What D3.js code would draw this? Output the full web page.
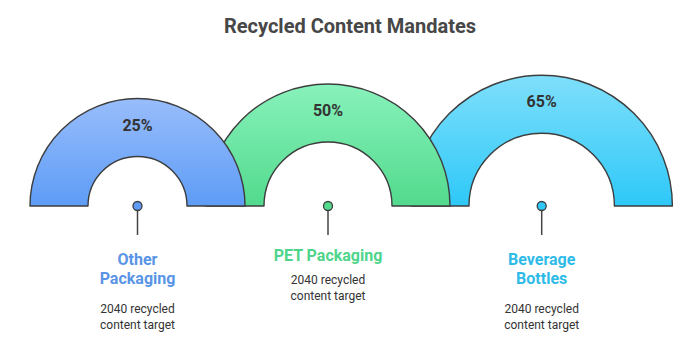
<!DOCTYPE html>
<html>
<head>
<meta charset="utf-8">
<script src="https://cdn.jsdelivr.net/npm/d3@7"></script>
<style>
  html, body { margin: 0; padding: 0; background: #fff; }
  svg { display: block; font-family: Roboto, "Noto Sans", sans-serif; }
</style>
</head>
<body>
<svg id="chart" width="700" height="350"></svg>
<script>
// Recycled content targets by packaging category
const categories = ["Other Packaging", "PET Packaging", "Beverage Bottles"];
const titleLines = [["Other", "Packaging"], ["PET Packaging"], ["Beverage", "Bottles"]];
const values = [25, 50, 65];
const valueLabels = ["25%", "50%", "65%"];
const descriptionLines = ["2040 recycled", "content target"];

const fillTop = ["#98bdfb", "#88f2bb", "#7fdffb"];
const fillBottom = ["#5e9cf6", "#52da8d", "#2ec8f8"];
const titleColors = ["#5a94e6", "#4ed58b", "#2fbbe8"];

const svg = d3.select("#chart");
const baseY = 206;
const bandWidth = 58;
const overlap = 39;

// Outer radius grows with the mandated percentage
const radius = d3.scaleLinear().domain([0, 100]).range([93, 151]);

// Place the semicircles side by side, each overlapping its neighbour
const layout = [];
let cursor = 30;
values.forEach((v, i) => {
  const R = radius(v);
  const cx = cursor + R;
  layout.push({ i, v, R, r: R - bandWidth, cx });
  cursor = cx + R - overlap;
});

const defs = svg.append("defs");
layout.forEach(d => {
  const g = defs.append("linearGradient")
    .attr("id", "grad" + d.i)
    .attr("x1", 0).attr("y1", 0).attr("x2", 0).attr("y2", 1);
  g.append("stop").attr("offset", "0%").attr("stop-color", fillTop[d.i]);
  g.append("stop").attr("offset", "100%").attr("stop-color", fillBottom[d.i]);
});

// Title
svg.append("text")
  .attr("x", 350).attr("y", 33)
  .attr("text-anchor", "middle")
  .attr("font-size", 20).attr("font-weight", 700)
  .attr("fill", "#474747")
  .text("Recycled Content Mandates");

const arc = d3.arc()
  .startAngle(-Math.PI / 2)
  .endAngle(Math.PI / 2);

// Draw right-most first so left arcs sit on top
const gauges = svg.append("g").selectAll("g")
  .data(layout.slice().reverse())
  .join("g")
  .attr("transform", d => `translate(${d.cx},${baseY})`);

gauges.append("path")
  .attr("d", d => arc({ innerRadius: d.r, outerRadius: d.R }))
  .attr("fill", d => `url(#grad${d.i})`)
  .attr("stroke", "#3d3d3d")
  .attr("stroke-width", 1.4)
  .attr("stroke-linejoin", "round");

gauges.append("text")
  .attr("x", 0)
  .attr("y", d => -(d.R + d.r) / 2 + 3)
  .attr("text-anchor", "middle")
  .attr("font-size", 16).attr("font-weight", 700)
  .attr("fill", "#333")
  .text(d => valueLabels[d.i]);

// Pins and captions
const pins = svg.append("g").selectAll("g")
  .data(layout)
  .join("g")
  .attr("transform", d => `translate(${d.cx},0)`);

pins.append("line")
  .attr("x1", 0).attr("x2", 0)
  .attr("y1", baseY).attr("y2", 235)
  .attr("stroke", "#444").attr("stroke-width", 1.5);

pins.append("circle")
  .attr("cx", 0).attr("cy", baseY).attr("r", 4.5)
  .attr("fill", d => fillBottom[d.i])
  .attr("stroke", "#3d3d3d").attr("stroke-width", 1.3);

pins.each(function(d) {
  const g = d3.select(this);
  const lines = titleLines[d.i];
  const twoLine = lines.length > 1;
  const titleY = twoLine ? 265 : 261;
  lines.forEach((t, k) => {
    g.append("text")
      .attr("x", 0).attr("y", titleY + k * 19)
      .attr("text-anchor", "middle")
      .attr("font-size", 16).attr("font-weight", 700)
      .attr("fill", titleColors[d.i])
      .text(t);
  });
  const descY = twoLine ? 313 : 284;
  descriptionLines.forEach((t, k) => {
    g.append("text")
      .attr("x", 0).attr("y", descY + k * 15.5)
      .attr("text-anchor", "middle")
      .attr("font-size", 12)
      .attr("fill", "#333")
      .text(t);
  });
});
</script>
</body>
</html>
